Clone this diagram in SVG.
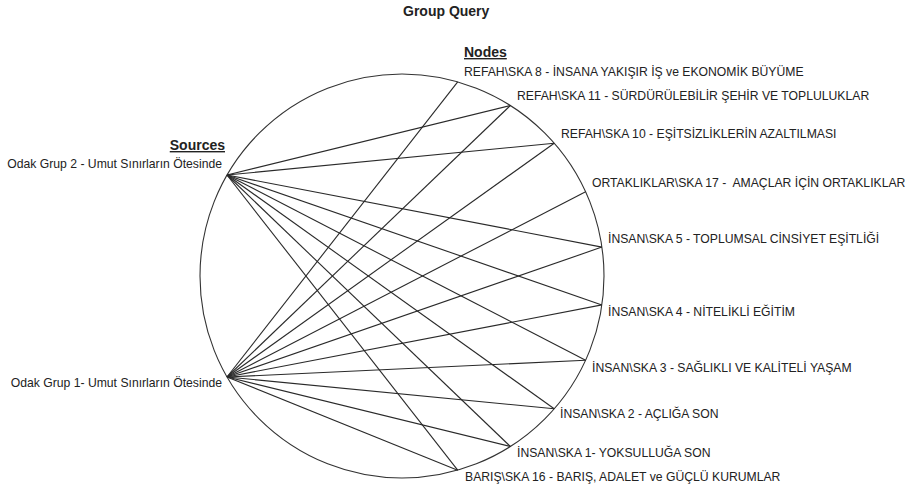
<svg xmlns="http://www.w3.org/2000/svg" width="909" height="490" viewBox="0 0 909 490">
<style>
  text { font-family: "Liberation Sans", Arial, sans-serif; fill: #222; }
  .title { font-size: 14px; font-weight: bold; }
  .head { font-size: 14px; font-weight: bold; text-decoration: underline; }
  .lbl { font-size: 12.2px; }
  .edge { stroke: #2a2a2a; stroke-width: 1.1; fill: none; }
  .ring { stroke: #333; stroke-width: 1.1; fill: none; }
</style>
<rect width="909" height="490" fill="#fff"/>
<text class="title" x="403" y="16">Group Query</text>
<circle class="ring" cx="402" cy="276" r="202"/>
<g id="connectors">
  <!-- Source 2 -->
  <line class="edge" x1="227" y1="175" x2="510.4" y2="105.5"/>
  <line class="edge" x1="227" y1="175" x2="554.2" y2="143.2"/>
  <line class="edge" x1="227" y1="175" x2="601.9" y2="247.1"/>
  <line class="edge" x1="227" y1="175" x2="601.9" y2="304.9"/>
  <line class="edge" x1="227" y1="175" x2="585.6" y2="360.3"/>
  <line class="edge" x1="227" y1="175" x2="554.2" y2="408.8"/>
  <line class="edge" x1="227" y1="175" x2="510.4" y2="446.5"/>
  <line class="edge" x1="227" y1="175" x2="457.7" y2="470.2"/>
  <!-- Source 1 -->
  <line class="edge" x1="227" y1="377" x2="457.7" y2="81.8"/>
  <line class="edge" x1="227" y1="377" x2="510.4" y2="105.5"/>
  <line class="edge" x1="227" y1="377" x2="554.2" y2="143.2"/>
  <line class="edge" x1="227" y1="377" x2="585.6" y2="191.7"/>
  <line class="edge" x1="227" y1="377" x2="601.9" y2="247.1"/>
  <line class="edge" x1="227" y1="377" x2="601.9" y2="304.9"/>
  <line class="edge" x1="227" y1="377" x2="585.6" y2="360.3"/>
  <line class="edge" x1="227" y1="377" x2="554.2" y2="408.8"/>
  <line class="edge" x1="227" y1="377" x2="510.4" y2="446.5"/>
  <line class="edge" x1="227" y1="377" x2="457.7" y2="470.2"/>
</g>
<g id="sources-header"><text class="head" x="225" y="150" text-anchor="end">Sources</text></g>
<g id="src2"><text class="lbl" x="222" y="168" text-anchor="end">Odak Grup 2 - Umut Sınırların Ötesinde</text></g>
<g id="src1"><text class="lbl" x="222" y="387" text-anchor="end">Odak Grup 1- Umut Sınırların Ötesinde</text></g>
<g id="nodes-header"><text class="head" x="464" y="57">Nodes</text></g>
<g id="n8"><text class="lbl" x="464" y="76">REFAH\SKA 8 - İNSANA YAKIŞIR İŞ ve EKONOMİK BÜYÜME</text></g>
<g id="n11"><text class="lbl" x="517" y="100">REFAH\SKA 11 - SÜRDÜRÜLEBİLİR ŞEHİR VE TOPLULUKLAR</text></g>
<g id="n10"><text class="lbl" x="561" y="138">REFAH\SKA 10 - EŞİTSİZLİKLERİN AZALTILMASI</text></g>
<g id="n17"><text class="lbl" x="592" y="187" xml:space="preserve">ORTAKLIKLAR\SKA 17 -  AMAÇLAR İÇİN ORTAKLIKLAR</text></g>
<g id="n5"><text class="lbl" x="608" y="243">İNSAN\SKA 5 - TOPLUMSAL CİNSİYET EŞİTLİĞİ</text></g>
<g id="n4"><text class="lbl" x="608" y="316">İNSAN\SKA 4 - NİTELİKLİ EĞİTİM</text></g>
<g id="n3"><text class="lbl" x="592" y="372">İNSAN\SKA 3 - SAĞLIKLI VE KALİTELİ YAŞAM</text></g>
<g id="n2"><text class="lbl" x="560" y="418">İNSAN\SKA 2 - AÇLIĞA SON</text></g>
<g id="n1"><text class="lbl" x="517" y="457">İNSAN\SKA 1- YOKSULLUĞA SON</text></g>
<g id="n16"><text class="lbl" x="465" y="481">BARIŞ\SKA 16 - BARIŞ, ADALET ve GÜÇLÜ KURUMLAR</text></g>
</svg>
